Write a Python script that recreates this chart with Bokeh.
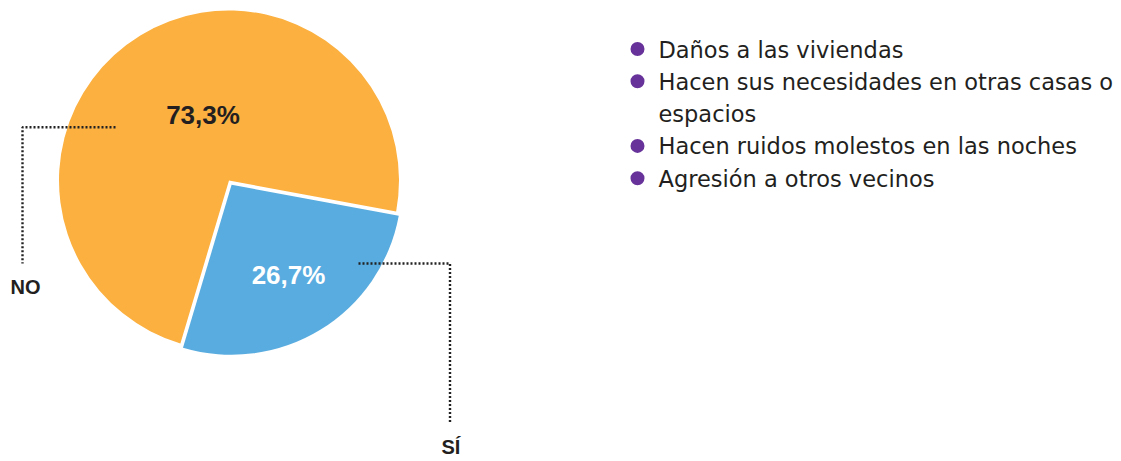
import math
from bokeh.plotting import figure
from bokeh.models import Range1d, ColumnDataSource
from bokeh.core.properties import value
from bokeh.embed import file_html
from bokeh.resources import INLINE

# ---- data ----
categories = ["NO", "SÍ"]
percentages = [73.3, 26.7]
pct_labels = ["73,3%", "26,7%"]
legend_items = [
    "Daños a las viviendas",
    "Hacen sus necesidades en otras casas o\nespacios",
    "Hacen ruidos molestos en las noches",
    "Agresión a otros vecinos",
]

# ---- style ----
colors = ["#FBB040", "#59ACDF"]
explode = [0, 5]
purple = "#67339A"
ink = "#231F20"
W, H = 1121, 461

p = figure(width=W, height=H, output_backend="svg", toolbar_location=None,
           x_axis_type=None, y_axis_type=None, min_border=0,
           x_range=Range1d(0, W), y_range=Range1d(0, H))
p.outline_line_color = None
p.grid.visible = False
p.background_fill_color = "white"

# screen -> data helper (data y = H - screen y)
def sy(y):
    return H - y

cx, cy, r = 228.5, sy(180), 170
start = math.radians(-10.5)
total = sum(percentages)
angles = []
a = start
for v in percentages:
    b = a + v / total * 2 * math.pi
    angles.append((a, b))
    a = b

xs, ys, sa, ea = [], [], [], []
for (a0, a1), ex in zip(angles, explode):
    mid = (a0 + a1) / 2
    xs.append(cx + ex * math.cos(mid))
    ys.append(cy + ex * math.sin(mid))
    sa.append(a0)
    ea.append(a1)

src = ColumnDataSource(dict(x=xs, y=ys, start=sa, end=ea, color=colors, cat=categories))
p.wedge(x="x", y="y", radius=r, start_angle="start", end_angle="end",
        fill_color="color", line_color=None, source=src)

# percentage labels
p.text(x=[202.5], y=[sy(124 - 10)], text=[pct_labels[0]], text_align="center",
       text_baseline="alphabetic", text_font=value("Liberation Sans"),
       text_font_style="bold", text_font_size="26px", text_color=ink)
p.text(x=[288], y=[sy(284 - 10)], text=[pct_labels[1]], text_align="center",
       text_baseline="alphabetic", text_font=value("Liberation Sans"),
       text_font_style="bold", text_font_size="26px", text_color="white")

# leader lines
dot = dict(line_color="#222222", line_width=2.4, line_dash="2 2")
p.line(x=[115, 22, 22], y=[sy(126.7), sy(126.7), sy(263)], **dot)
p.line(x=[358, 449.5, 449.5], y=[sy(263), sy(263), sy(423)], **dot)

# category labels
p.text(x=[10], y=[sy(295 - 9)], text=[categories[0]], text_align="left",
       text_baseline="alphabetic", text_font=value("Liberation Sans"),
       text_font_style="bold", text_font_size="20px", text_color=ink)
p.text(x=[441], y=[sy(455 - 9)], text=[categories[1]], text_align="left",
       text_baseline="alphabetic", text_font=value("Liberation Sans"),
       text_font_style="bold", text_font_size="20px", text_color=ink)

# legend list
line_h = 32.3
base0 = 56
row = 0
bx, by, tx, ty, tt = [], [], [], [], []
for item in legend_items:
    parts = item.split("\n")
    bx.append(637)
    by.append(sy(base0 + row * line_h - 7.5))
    for part in parts:
        tx.append(658)
        ty.append(sy(base0 + row * line_h - 7))
        tt.append(part)
        row += 1

p.scatter(x=bx, y=by, size=14, marker="circle", fill_color=purple, line_color=None)
p.text(x=tx, y=ty, text=tt, text_align="left", text_baseline="alphabetic",
       text_font=value("DejaVu Sans"), text_font_size="22.5px", text_color=ink)

open("out.html", "w").write(file_html(p, INLINE))
